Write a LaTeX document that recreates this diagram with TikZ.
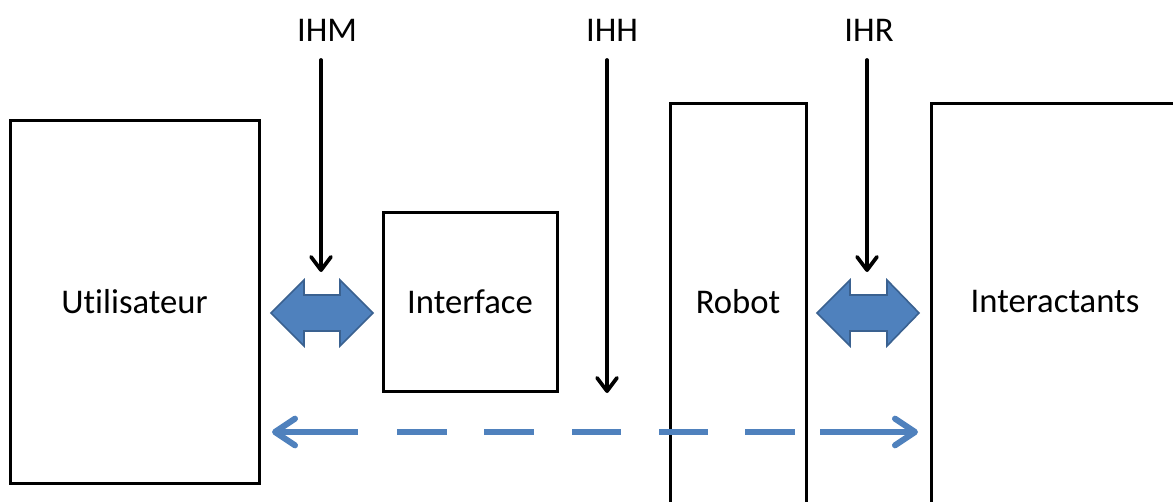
\documentclass[tikz,border=0pt]{standalone}
\usepackage{fontspec}
\setmainfont[Ligatures=NoCommon]{Carlito}
\usetikzlibrary{arrows.meta}
\definecolor{blueA}{HTML}{4F81BD}
\definecolor{blueB}{HTML}{3A6190}
\begin{document}
\begin{tikzpicture}[x=0.75pt,y=-0.75pt,
  box/.style={draw=black, line width=2.25pt, inner sep=0pt},
  txt/.style={font=\fontsize{26}{31}\selectfont, inner sep=0pt},
  ptr/.style={line width=2.8pt, line cap=round, -{Straight Barb[length=10pt,width=15pt,line cap=round,line join=round]}},
  dbl/.style={fill=blueA, draw=blueB, line width=1.2pt, line join=miter},
  dsh/.style={draw=blueA, line width=4.5pt,
    dash pattern=on 60pt off 29.25pt on 37.5pt off 27.75pt on 37.5pt off 28.5pt on 36.75pt off 28.5pt on 36.75pt off 27.75pt on 37.5pt off 18.75pt on 80pt,
    {Straight Barb[length=15pt,width=20pt,line cap=round,line join=round]}-{Straight Barb[length=15pt,width=20pt,line cap=round,line join=round]}}
]
\clip (0,0) rectangle (1173,502);
\fill[white] (0,0) rectangle (1173,502);
% boxes
\node[box, txt, minimum width=249*0.75pt, minimum height=362*0.75pt] (util) at (134.5,302) {Utilisateur};
\node[box, txt, minimum width=174*0.75pt, minimum height=178*0.75pt] (iface) at (470,302) {Interface};
\node[box, minimum width=136*0.75pt, minimum height=426*0.75pt] (robot) at (738,317) {};
\node[box, minimum width=269*0.75pt, minimum height=426*0.75pt] (inter) at (1065.5,317) {};
\node[txt] (robotT) at (738,302) {Robot};
\node[txt] (interT) at (1055,302) {Interactants};
% labels
\node[txt] (ihm) at (327,30) {IHM};
\node[txt] (ihh) at (612,30) {IHH};
\node[txt] (ihr) at (869,30) {IHR};
% double arrows
\draw[dbl] (271,313) -- (304,280) -- (304,295) -- (340,295) -- (340,280) -- (373,313) -- (340,346) -- (340,331) -- (304,331) -- (304,346) -- cycle;
\draw[dbl] (817,313) -- (850,280) -- (850,295) -- (887,295) -- (887,280) -- (919,313) -- (887,346) -- (887,331) -- (850,331) -- (850,346) -- cycle;
% pointer arrows
\coordinate (ihmS) at (321,60);
\coordinate (ihmE) at (321,272);
\coordinate (ihhS) at (607,60);
\coordinate (ihhE) at (607,393);
\coordinate (ihrS) at (867,60);
\coordinate (ihrE) at (867,272);
\draw[ptr] (ihmS) -- (ihmE);
\draw[ptr] (ihhS) -- (ihhE);
\draw[ptr] (ihrS) -- (ihrE);
% dashed arrow
\coordinate (dL) at (272,432);
\coordinate (dR) at (918,432);
\draw[dsh] (dL) -- (dR);
\end{tikzpicture}
\end{document}
